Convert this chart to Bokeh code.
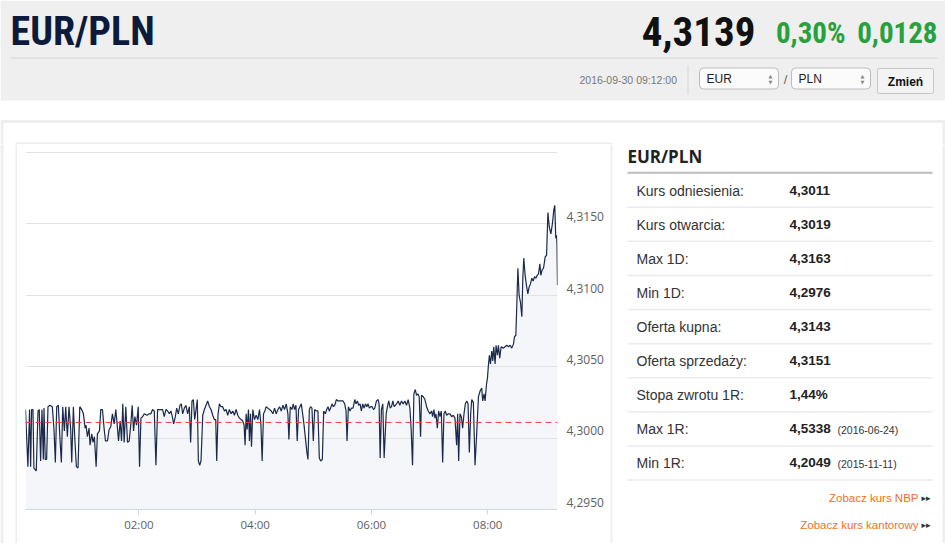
from datetime import datetime, timedelta

from bokeh.plotting import figure
from bokeh.layouts import column, row
from bokeh.models import (Range1d, FixedTicker, DatetimeTickFormatter, CustomJSTickFormatter,
                          Span, ColumnDataSource)
from bokeh.core.properties import value
from bokeh.embed import file_html
from bokeh.resources import INLINE

# ---------------- data ----------------
pair_title = "EUR/PLN"
last_price = "4,3139"
change_pct = "0,30%"
change_abs = "0,0128"
quote_time = "2016-09-30 09:12:00"
session_day = datetime(2016, 9, 30)

# minutes since midnight / EUR-PLN rate
minutes_a = [3, 5.5, 7.2, 8.3, 9.3, 10.7, 11.7, 14.1, 15.9, 17.2, 18.6, 20.0, 21.4, 22.1, 23.4, 24.8,
             26.2, 28.3, 30.7, 32.4, 33.8, 35.2, 36.9, 38.6, 40.0, 41.4, 43.1, 44.5, 46.2, 47.9, 49.6,
             50.7, 52.4, 53.8, 55.5, 57.2, 59.0, 61.0, 62.8, 64.5, 65.5, 66.9, 68.6, 69.6, 71.4, 72.7,
             74.1, 75.9, 77.2, 79.3, 80.7, 82.4, 84.1, 85.5, 87.6, 89.3, 91.0, 92.7, 94.5, 96.2, 97.9,
             99.0, 100.7, 102.1, 103.4, 104.8, 106.5, 108.3, 110.0, 111.7, 113.1, 114.5, 115.9, 117.6,
             119.3, 120.7, 122.1, 123.8, 125.5, 128.3, 130.7, 132.4]
rates_a = [4.3020, 4.2980, 4.3020, 4.2980, 4.3020, 4.3020, 4.2979, 4.2977, 4.3019, 4.3020, 4.2984,
           4.3020, 4.2985, 4.3021, 4.2985, 4.2985, 4.3022, 4.3023, 4.3022, 4.3006, 4.2983, 4.3022,
           4.3023, 4.2999, 4.2983, 4.3022, 4.3005, 4.3022, 4.3001, 4.3022, 4.3007, 4.2983, 4.3022,
           4.3001, 4.2980, 4.2979, 4.3022, 4.3020, 4.3017, 4.3007, 4.3009, 4.3001, 4.3007, 4.2995,
           4.3003, 4.2997, 4.3001, 4.2980, 4.3003, 4.3005, 4.3020, 4.3020, 4.3007, 4.2998, 4.2998,
           4.3006, 4.3008, 4.3017, 4.3010, 4.3020, 4.3007, 4.2998, 4.3012, 4.2998, 4.3024, 4.2997,
           4.3022, 4.2997, 4.2998, 4.3010, 4.3023, 4.3005, 4.3015, 4.3009, 4.3022, 4.2980, 4.3014,
           4.3015, 4.3017, 4.3016, 4.3017, 4.3017]

minutes_b = [134.1, 135.9, 137.6, 139.3, 141.0, 142.8, 144.5, 146.2, 147.9, 149.7, 151.4, 153.1,
             154.8, 155.9, 157.6, 159.0, 160.7, 162.4, 163.8, 165.2, 166.9, 168.6, 170.3, 172.1,
             173.4, 174.8, 176.2, 177.6, 179.0, 180.3, 181.4, 182.8, 184.1, 185.9, 187.6, 189.3,
             191.0, 192.8, 194.5, 196.2, 197.9, 199.3, 200.3, 201.7, 203.1, 204.8, 206.5, 208.3,
             210.0, 211.7, 213.4, 215.2, 216.9, 218.6, 220.3, 222.1, 223.8, 225.5, 227.2, 228.6,
             229.6, 230.7, 231.7, 233.1, 234.1, 235.2, 236.2, 237.6, 239.3, 241.0, 242.8, 244.5,
             245.9, 247.2, 248.6, 250.0, 251.4, 253.1, 254.8]
rates_b = [4.3020, 4.3019, 4.2981, 4.3020, 4.3020, 4.3020, 4.3020, 4.3015, 4.3020, 4.3019, 4.3017,
           4.3019, 4.3014, 4.3010, 4.3015, 4.3021, 4.3017, 4.3023, 4.3024, 4.3017, 4.3021, 4.3023,
           4.3017, 4.3022, 4.2997, 4.3026, 4.3027, 4.3013, 4.3020, 4.3027, 4.2984, 4.2981, 4.2984,
           4.3016, 4.3020, 4.3023, 4.3026, 4.3022, 4.3020, 4.3016, 4.3013, 4.3013, 4.2984, 4.3017,
           4.3024, 4.3022, 4.3022, 4.3019, 4.3020, 4.3016, 4.3020, 4.3017, 4.3019, 4.3016, 4.3020,
           4.3016, 4.3014, 4.3013, 4.3012, 4.3009, 4.2995, 4.3017, 4.3006, 4.3020, 4.2998, 4.3017,
           4.2994, 4.3020, 4.3013, 4.3016, 4.3013, 4.3020, 4.3010, 4.2984, 4.3017, 4.3019, 4.3022,
           4.3021, 4.3020]

minutes_c = [256.6, 258.3, 260.0, 261.7, 263.5, 265.2, 266.9, 268.6, 270.3, 272.1, 273.8, 274.8,
             276.2, 277.9, 279.3, 280.7, 282.1, 283.4, 284.8, 286.2, 287.6, 289.0, 290.3, 291.7,
             293.4, 294.5, 295.9, 297.2, 298.6, 300.0, 301.4, 303.1, 304.8, 306.2, 307.6, 309.3,
             310.7, 312.4, 313.8, 315.2, 316.5, 317.9, 319.3, 320.7, 322.1, 323.8, 325.5, 328.3,
             330.7, 332.4, 333.8, 334.8, 336.2, 337.9, 339.3, 341.0, 342.8, 344.1, 345.5, 346.9,
             348.3, 349.6, 351.0, 352.4, 353.8, 355.2, 356.5, 357.9, 359.3, 360.7, 362.1, 363.4,
             365.2, 366.9, 367.9, 369.0, 370.3, 371.7, 373.1, 374.1, 375.2, 376.5, 377.9, 379.3,
             380.7, 382.1, 383.4, 384.8]
rates_c = [4.3019, 4.3017, 4.3021, 4.3017, 4.3020, 4.3022, 4.3019, 4.3023, 4.3020, 4.3024, 4.3017,
           4.2999, 4.3022, 4.3020, 4.3024, 4.3020, 4.3023, 4.2998, 4.3020, 4.3022, 4.3024, 4.3017,
           4.3010, 4.3001, 4.2990, 4.2985, 4.3020, 4.3022, 4.3021, 4.2998, 4.3020, 4.3019, 4.3019,
           4.2986, 4.2984, 4.2985, 4.3019, 4.3017, 4.3020, 4.3022, 4.3019, 4.3021, 4.3024, 4.3022,
           4.3023, 4.3027, 4.3026, 4.3026, 4.3026, 4.3024, 4.3019, 4.2998, 4.3022, 4.3019, 4.3021,
           4.3021, 4.3027, 4.3024, 4.3026, 4.3023, 4.3024, 4.3019, 4.3024, 4.3021, 4.3024, 4.3022,
           4.3024, 4.3021, 4.3022, 4.3022, 4.3020, 4.3021, 4.3026, 4.3027, 4.3024, 4.2986, 4.3020,
           4.3024, 4.2986, 4.3001, 4.3017, 4.3022, 4.3026, 4.3021, 4.3022, 4.3026, 4.3022, 4.3023]

minutes_d = [385.9, 387.6, 389.3, 391.0, 392.8, 394.5, 396.2, 397.9, 399.7, 401.0, 402.4, 403.8,
             405.2, 406.6, 407.9, 409.3, 410.7, 411.7, 413.5, 415.2, 416.9, 418.6, 420.4, 422.1,
             423.1, 424.5, 425.5, 426.6, 428.0, 429.3, 430.7, 432.1, 433.5, 434.8, 436.2, 437.6,
             439.3, 441.0, 442.8, 444.5, 446.2, 447.9, 449.0, 450.0, 451.4, 452.8, 454.1, 455.5,
             456.9, 458.3, 459.7, 461.0, 462.4]
rates_d = [4.3024, 4.3026, 4.3023, 4.3026, 4.3024, 4.3026, 4.3023, 4.3027, 4.3021, 4.3006, 4.2981,
           4.3031, 4.3034, 4.3030, 4.3031, 4.3029, 4.3001, 4.3030, 4.3029, 4.3027, 4.3022, 4.3019,
           4.3017, 4.3019, 4.3015, 4.3020, 4.3014, 4.3017, 4.3007, 4.3019, 4.3015, 4.3019, 4.2983,
           4.3017, 4.3019, 4.3016, 4.3017, 4.3017, 4.3015, 4.3016, 4.3014, 4.2995, 4.3017, 4.2984,
           4.3017, 4.3015, 4.3007, 4.3017, 4.3024, 4.3026, 4.3024, 4.2990, 4.3017]

minutes_e = [463.5, 465.2, 466.9, 468.6, 470.4, 472.1, 473.8, 474.8, 476.2, 477.3, 478.6, 479.7,
             480.7, 481.7, 482.8, 484.2, 485.2, 486.2, 487.6, 488.6, 490.0, 491.0, 492.4, 493.8,
             496.2, 497.9, 499.7, 501.4, 503.1, 504.8, 506.6, 507.6, 509.0, 510.0, 511.1, 512.4,
             513.8, 515.2, 516.2, 517.2, 518.6, 520.0, 521.4, 522.8, 524.1, 525.5, 526.9, 528.3,
             529.7, 531.0, 532.4, 533.8, 534.8, 536.2, 537.6, 539.3, 540.7, 542.1, 543.5, 545.2,
             546.9, 548.2, 549.2, 550.2, 551.0, 551.5, 552.0]
rates_e = [4.3027, 4.3025, 4.2981, 4.3003, 4.3029, 4.3033, 4.3035, 4.3026, 4.3031, 4.3026, 4.3037,
           4.3042, 4.3051, 4.3058, 4.3052, 4.3061, 4.3054, 4.3064, 4.3052, 4.3065, 4.3058, 4.3065,
           4.3056, 4.3064, 4.3063, 4.3064, 4.3065, 4.3064, 4.3065, 4.3063, 4.3066, 4.3071, 4.3072,
           4.3093, 4.3119, 4.3100, 4.3095, 4.3085, 4.3112, 4.3126, 4.3114, 4.3107, 4.3101, 4.3106,
           4.3108, 4.3112, 4.3110, 4.3113, 4.3112, 4.3114, 4.3115, 4.3122, 4.3114, 4.3118, 4.3119,
           4.3127, 4.3128, 4.3158, 4.3148, 4.3143, 4.3151, 4.3160, 4.3163, 4.3140, 4.3142, 4.3135,
           4.3107]

reference_rate = 4.3011          # "Kurs odniesienia" - red dashed line
y_levels = [4.2950, 4.3000, 4.3050, 4.3100, 4.3150, 4.3200]
x_tick_hours = [2, 4, 6, 8]

row_labels = ["Kurs odniesienia:", "Kurs otwarcia:", "Max 1D:", "Min 1D:", "Oferta kupna:",
              "Oferta sprzedaży:", "Stopa zwrotu 1R:", "Max 1R:", "Min 1R:"]
row_values = ["4,3011", "4,3019", "4,3163", "4,2976", "4,3143", "4,3151", "1,44%", "4,5338", "4,2049"]
row_dates = ["", "", "", "", "", "", "", "(2016-06-24)", "(2015-11-11)"]
links = ["Zobacz kurs NBP", "Zobacz kurs kantorowy"]

# ---------------- helpers ----------------
NARROW = "Liberation Sans Narrow, Roboto Condensed, Liberation Sans"
SANS = "Liberation Sans"
PANEL = "#eeeeee"
BODY_TOP, BODY_BOTTOM = 144, 543


def deco(x0, x1, y0, y1):
    """A plain drawing surface covering page pixels x0..x1, y0..y1 (y downwards)."""
    f = figure(width=x1 - x0, height=y1 - y0, x_range=Range1d(x0, x1), y_range=Range1d(y1, y0),
               toolbar_location=None, output_backend="svg", title=None,
               x_axis_location=None, y_axis_location=None, min_border=0)
    f.grid.visible = False
    f.outline_line_color = None
    f.background_fill_color = "white"
    f.border_fill_color = "white"
    return f


def box(f, l, t, r, b, fill=None, line=None, lw=1, radius=0):
    f.quad(left=[l], right=[r], top=[t], bottom=[b], fill_color=fill, line_color=line,
           line_width=lw, border_radius=radius)


def txt(f, x, y, s, size, color="#333333", font=SANS, style="normal", align="left"):
    f.text(x=[x], y=[y], text=[s], text_font=value(font), text_font_size=value(f"{size}px"),
           text_font_style=value(style), text_color=color, text_align=value(align),
           text_baseline=value("middle"))


# ---------------- header (page y 0..144) ----------------
head = deco(0, 945, 0, BODY_TOP)
box(head, 0, 0, 945, 100, fill="#efefef")
box(head, 10, 57, 937, 58, fill="#d6d6d6")
box(head, 687, 65, 688, 94, fill="#d8d8d8")
box(head, 699, 67.5, 778, 88.5, fill="#fbfbfb", line="#bcbcbc", radius=4)
box(head, 791, 67.5, 870, 88.5, fill="#fbfbfb", line="#bcbcbc", radius=4)
box(head, 877, 68, 933, 93, fill="#f3f3f3", line="#c6c6c6", radius=2)
box(head, 0, 119.5, 945, 122.5, fill=PANEL)
box(head, 0, 122.5, 3, BODY_TOP, fill=PANEL)
box(head, 942, 122.5, 945, BODY_TOP, fill=PANEL)
box(head, 15, 142, 612, BODY_TOP, fill=PANEL)

txt(head, 10, 31, pair_title, 40, "#0c1a3c", NARROW, "bold")
txt(head, 755, 31, last_price, 41, "#111111", NARROW, "bold", align="right")
txt(head, 845, 32, change_pct, 29, "#27a03d", NARROW, "bold", align="right")
txt(head, 937, 32, change_abs, 29, "#27a03d", NARROW, "bold", align="right")
txt(head, 579, 79.5, quote_time, 10.5, "#777777")
txt(head, 706, 78, "EUR", 12, "#222222")
txt(head, 798, 78, "PLN", 12, "#222222")
for ax in (770, 862):
    txt(head, ax, 75, "▲", 5, "#888888", "DejaVu Sans", align="center")
    txt(head, ax, 81, "▼", 5, "#888888", "DejaVu Sans", align="center")
txt(head, 785, 79, "/", 13, "#666666", align="center")
txt(head, 905, 81, "Zmień", 12, "#111111", style="bold", align="center")

# ---------------- left strip (page x 0..17) ----------------
left = deco(0, 17, BODY_TOP, BODY_BOTTOM)
box(left, 0, BODY_TOP, 3, BODY_BOTTOM, fill=PANEL)
box(left, 15, BODY_TOP, 17, BODY_BOTTOM, fill=PANEL)

# ---------------- chart (page x 17..610, y 144..543) ----------------
minutes = minutes_a + minutes_b + minutes_c + minutes_d + minutes_e
rates = rates_a + rates_b + rates_c + rates_d + rates_e
assert len(minutes) == len(rates), (len(minutes), len(rates))
times = [session_day + timedelta(minutes=m) for m in minutes]
epoch = datetime(1970, 1, 1)
tick_ms = [((session_day + timedelta(hours=h)) - epoch).total_seconds() * 1000 for h in x_tick_hours]
src = ColumnDataSource(dict(t=times, v=rates, base=[y_levels[0]] * len(rates)))

# plot band 4,2950..4,3200 spans page y 509..152; the frame covers the whole body (144..543)
grid_top, grid_bottom = 152, 509
per_px = (y_levels[-1] - y_levels[0]) / (grid_bottom - grid_top)
y_start = y_levels[0] - (BODY_BOTTOM - grid_bottom) * per_px
y_end = y_levels[-1] + (grid_top - BODY_TOP) * per_px
label_lift = 0.0005  # tick labels sit just above their grid line

chart = figure(frame_width=532, frame_height=BODY_BOTTOM - BODY_TOP, x_axis_type="datetime",
               y_axis_location="right",
               x_range=Range1d(times[0], times[-1]), y_range=Range1d(y_start, y_end),
               toolbar_location=None, output_backend="svg", title=None,
               min_border_left=8, min_border_right=53, min_border_top=0, min_border_bottom=0)
chart.outline_line_color = None
chart.background_fill_color = "white"
chart.border_fill_color = "white"

chart.xgrid.visible = False
chart.ygrid.ticker = FixedTicker(ticks=y_levels)
chart.ygrid.grid_line_color = "#e2e2e2"

chart.yaxis.ticker = FixedTicker(ticks=[v + label_lift for v in y_levels[:-1]])
chart.yaxis.formatter = CustomJSTickFormatter(
    args=dict(lift=label_lift),
    code="return (tick - lift).toFixed(4).replace('.', ',');")
chart.yaxis.axis_line_color = None
chart.yaxis.major_tick_line_color = None
chart.yaxis.minor_tick_line_color = None
chart.yaxis.major_label_standoff = 3
chart.yaxis.major_label_text_font = "Open Sans"
chart.yaxis.major_label_text_font_size = "12px"
chart.yaxis.major_label_text_color = "#606060"

chart.xaxis.fixed_location = y_levels[0]
chart.xaxis.ticker = FixedTicker(ticks=tick_ms)
chart.xaxis.formatter = DatetimeTickFormatter(hours="%H:%M", hourmin="%H:%M", minutes="%H:%M",
                                              minsec="%H:%M", days="%H:%M")
chart.xaxis.axis_line_color = "#ccd6eb"
chart.xaxis.major_tick_line_color = "#ccd6eb"
chart.xaxis.major_tick_out = 5
chart.xaxis.major_tick_in = 0
chart.xaxis.minor_tick_line_color = None
chart.xaxis.major_label_standoff = 2
chart.xaxis.major_label_text_font = "Open Sans"
chart.xaxis.major_label_text_font_size = "11.5px"
chart.xaxis.major_label_text_color = "#606060"

chart.varea(x="t", y1="base", y2="v", source=src, fill_color="#dfe5ee", fill_alpha=0.35)
chart.line(x="t", y="v", source=src, line_color="#1b2a4a", line_width=1.2)
chart.add_layout(Span(location=reference_rate, dimension="width", line_color="#f23c3c",
                      line_dash="6 4", line_width=1, level="overlay"))

# ---------------- right side with quote table (page x 610..945) ----------------
side = deco(610, 945, BODY_TOP, BODY_BOTTOM)
box(side, 610, BODY_TOP, 612, BODY_BOTTOM, fill=PANEL)
box(side, 942, BODY_TOP, 945, BODY_BOTTOM, fill=PANEL)
txt(side, 627, 155.5, pair_title, 17, "#222222", "Open Sans", "bold")
box(side, 627, 171.3, 932, 173.3, fill="#bdbdbd")

n = len(row_labels)
row_y = [190 + i * 34.0 for i in range(n)]
rule_y = [206 + i * 34.1 for i in range(n)]
side.quad(left=[627] * n, right=[932] * n, top=rule_y, bottom=[y + 1.5 for y in rule_y],
          fill_color="#ebebeb", line_color=None)
side.text(x=[636] * n, y=row_y, text=row_labels, text_font=value(SANS), text_font_size=value("14px"),
          text_color="#333333", text_baseline=value("middle"))
side.text(x=[789] * n, y=row_y, text=row_values, text_font=value(SANS), text_font_size=value("13.5px"),
          text_font_style=value("bold"), text_color="#222222", text_baseline=value("middle"))
side.text(x=[837] * n, y=[y + 1 for y in row_y], text=row_dates, text_font=value(SANS),
          text_font_size=value("10.5px"), text_color="#333333", text_baseline=value("middle"))

for j, lk in enumerate(links):
    yc = 497 + j * 27
    txt(side, 918, yc, lk, 11.5, "#f07222", align="right")
    txt(side, 921, yc, "▸▸", 9, "#333333", "DejaVu Sans")

page = column(head, row(left, chart, side))
open("out.html", "w").write(file_html(page, INLINE))
